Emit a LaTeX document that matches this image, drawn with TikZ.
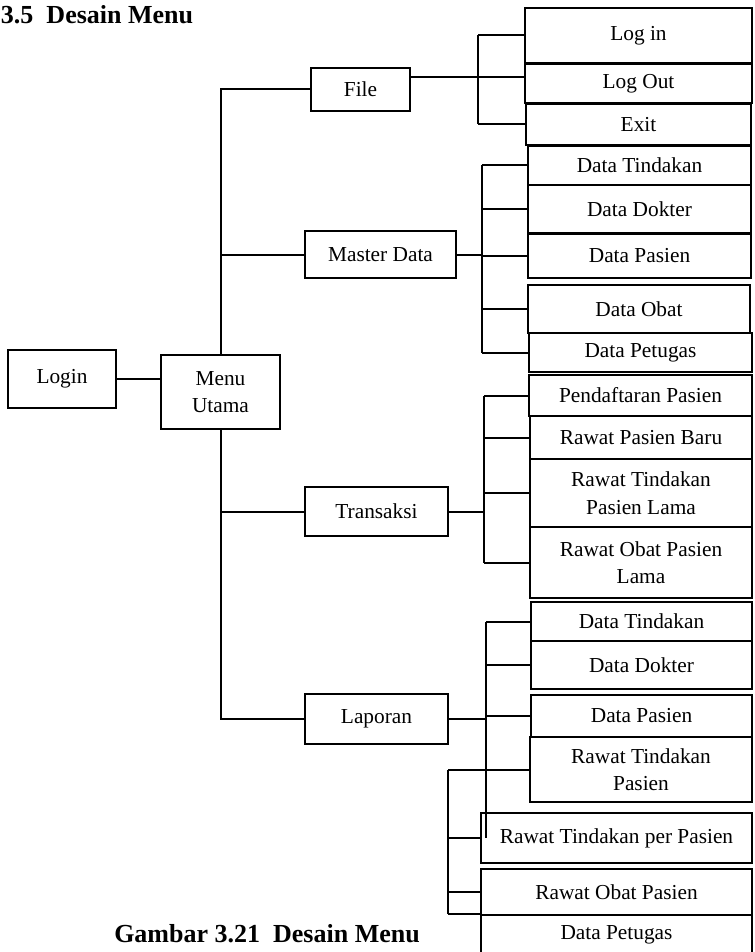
\documentclass[tikz,border=0pt]{standalone}
\usepackage{fontspec}
\setmainfont{Liberation Serif}
\usetikzlibrary{positioning}

\begin{document}
\begin{tikzpicture}[x=0.75pt,y=-0.75pt,line width=1.5pt]
\tikzstyle{box}=[draw,rectangle,inner sep=0pt,align=center,text=black,font=\fontsize{16}{20.6}\selectfont]
\tikzstyle{link}=[draw,line width=1.5pt]
\tikzset{sz/.style 2 args={minimum width=#1*0.75pt,minimum height=#2*0.75pt}}

\useasboundingbox (0,0) rectangle (754,952);

\node[anchor=base west,inner sep=0pt,font=\bfseries\fontsize{19.5}{23}\selectfont] (judul) at (0,24) {3.5\ \ Desain Menu};
\node[anchor=base,inner sep=0pt,font=\bfseries\fontsize{19.5}{23}\selectfont] (caption) at (267,942) {Gambar 3.21\ \ Desain Menu};

% menu utama
\node[box,sz={108}{58}]  (login)     at (62,379)    {Login};
\node[box,sz={119}{74}]  (menu)      at (220.5,392) {Menu\\Utama};
\node[box,sz={99}{43}]   (file)      at (360.5,89.5) {File};
\node[box,sz={151}{47}]  (master)    at (380.5,254.5) {Master Data};
\node[box,sz={143}{49}]  (transaksi) at (376.5,511.5) {Transaksi};
\node[box,sz={143}{50}]  (laporan)   at (376.5,719) {Laporan};

% file
\node[box,sz={227}{55}]  (logIn)  at (638.5,35.5)  {Log in};
\node[box,sz={227}{39}]  (logOut) at (638.5,83.5)  {Log Out};
\node[box,sz={225}{41}]  (exit)   at (638.5,124.5) {Exit};

% master data
\node[box,sz={223}{39}]  (mTindakan) at (639.5,165.5) {Data Tindakan};
\node[box,sz={223}{48}]  (mDokter)   at (639.5,209)   {Data Dokter};
\node[box,sz={223}{44}]  (mPasien)   at (639.5,256)   {Data Pasien};
\node[box,sz={222}{48}]  (mObat)     at (639,309)     {Data Obat};
\node[box,sz={223}{39}]  (mPetugas)  at (640.5,352.5) {Data Petugas};

% transaksi
\node[box,sz={223}{41}]  (tDaftar)   at (640.5,395.5) {Pendaftaran Pasien};
\node[box,sz={222}{43}]  (tBaru)     at (641,437.5)   {Rawat Pasien Baru};
\node[box,sz={222}{68}]  (tTindakan) at (641,493)     {Rawat Tindakan\\Pasien Lama};
\node[box,sz={222}{71}]  (tObat)     at (641,562.5)   {Rawat Obat Pasien\\Lama};

% laporan
\node[box,sz={221}{39}]  (lTindakan) at (641.5,621.5) {Data Tindakan};
\node[box,sz={221}{48}]  (lDokter)   at (641.5,665)   {Data Dokter};
\node[box,sz={221}{42}]  (lPasien)   at (641.5,716)   {Data Pasien};
\node[box,sz={222}{65}]  (lRawat)    at (641,769.5)   {Rawat Tindakan\\Pasien};
\node[box,sz={271}{50}]  (lPer)      at (616.5,838)   {Rawat Tindakan per Pasien};
\node[box,sz={271}{46}]  (lObat)     at (616.5,892)   {Rawat Obat Pasien};
\node[box,sz={271}{40}]  (lPetugas)  at (616.5,935)   {Data Petugas};

\coordinate (fileBr)   at (478,77);
\coordinate (masterBr) at (482,256);
\coordinate (transBr)  at (484,512);
\coordinate (laporBr)  at (486,717);
\coordinate (laporBr2) at (448,776);

\path[link] (login.east) -- (login.east -| menu.west);
\path[link] (menu.north) |- (file.west);
\path[link] (menu.north |- master.west) -- (master.west);
\path[link] (menu.south) |- (laporan.west);
\path[link] (menu.south |- transaksi.west) -- (transaksi.west);

\path[link] (fileBr -| file.east) -- (fileBr -| logOut.west);
\path[link] (fileBr |- logIn.west) -- (fileBr |- exit.west);
\foreach \n in {logIn,exit} \path[link] (fileBr |- \n.west) -- (\n.west);

\path[link] (master.east) -- (master.east -| masterBr);
\path[link] (masterBr |- mTindakan.west) -- (masterBr |- mPetugas.west);
\foreach \n in {mTindakan,mDokter,mPasien,mObat,mPetugas} \path[link] (masterBr |- \n.west) -- (\n.west);

\path[link] (transaksi.east) -- (transaksi.east -| transBr);
\path[link] (transBr |- tDaftar.west) -- (transBr |- tObat.west);
\foreach \n in {tDaftar,tBaru,tTindakan,tObat} \path[link] (transBr |- \n.west) -- (\n.west);

\path[link] (laporan.east) -- (laporan.east -| laporBr);
\path[link] (laporBr |- lTindakan.west) -- (laporBr |- lPer.west);
\foreach \n in {lTindakan,lDokter,lPasien} \path[link] (laporBr |- \n.west) -- (\n.west);

\path[link] (laporBr2 |- lRawat.west) -- (laporBr2 |- lPetugas.north west);
\foreach \n in {lRawat.west,lPer.west,lObat.west,lPetugas.north west} \path[link] (laporBr2 |- \n) -- (\n);
\end{tikzpicture}
\end{document}
